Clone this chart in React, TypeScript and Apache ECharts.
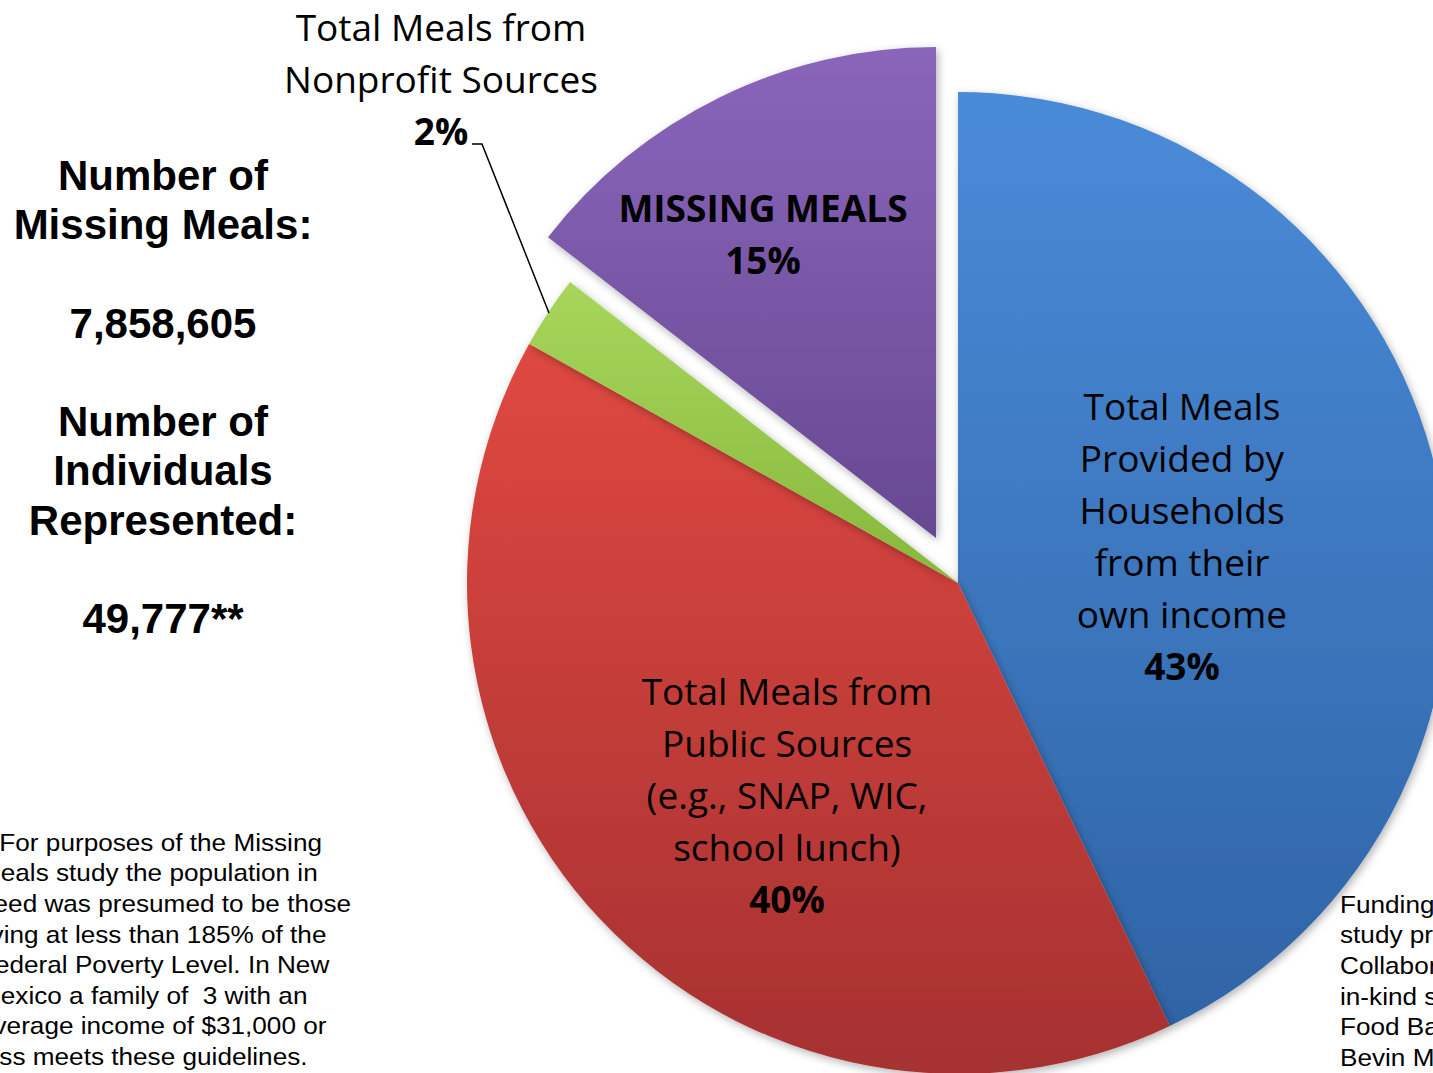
import React, { useEffect, useRef } from "react";
import * as echarts from "echarts";

// ---- data ----
const categories = [
  "Total Meals Provided by Households from their own income",
  "Total Meals from Public Sources (e.g., SNAP, WIC, school lunch)",
  "Total Meals from Nonprofit Sources",
  "MISSING MEALS",
];
// slice shares
const values = [42.9, 40.2, 2.4, 14.5];
// percentages as printed on the slices
const percentLabels = ["43%", "40%", "2%", "15%"];
const labelLines = [
  ["Total Meals", "Provided by", "Households", "from their", "own income"],
  ["Total Meals from", "Public Sources", "(e.g., SNAP, WIC,", "school lunch)"],
  ["Total Meals from", "Nonprofit Sources"],
  ["MISSING MEALS"],
];
const sliceColors = [
  ["#4a8bd8", "#2f64a6"],
  ["#df4840", "#a63131"],
  ["#a8d65c", "#86b83c"],
  ["#8a66bb", "#684892"],
];
const missingMealsCount = "7,858,605";
const individualsCount = "49,777**";
const footnoteLines = [
  "**For purposes of the Missing",
  "Meals study the population in",
  "need was presumed to be those",
  "living at less than 185% of the",
  "Federal Poverty Level. In New",
  "Mexico a family of  3 with an",
  "average income of $31,000 or",
  "less meets these guidelines.",
];
const fundingLines = [
  "Funding for this",
  "study provided by the",
  "Collaborative, with",
  "in-kind support from",
  "Food Bank and",
  "Bevin McCrory",
];

export default function App() {
  const ref = useRef<HTMLDivElement>(null);
  useEffect(() => {
    if (!ref.current) return;
    const chart = echarts.init(ref.current, undefined, { renderer: "svg" });
    const pieFont = "'Open Sans', sans-serif";
    const labelRich = {
      n: { fontFamily: pieFont, fontSize: 37, lineHeight: 52, color: "#000" },
      b: { fontFamily: pieFont, fontSize: 37, lineHeight: 52, color: "#000", fontWeight: "bold" },
    };
    const mkLabel = (i: number, x: number, y: number, boldAll: boolean) => ({
      type: "text",
      x,
      y,
      z: 100,
      style: {
        text:
          labelLines[i].map((l) => `{${boldAll ? "b" : "n"}|${l}}`).join("\n") +
          `\n{b|${percentLabels[i]}}`,
        rich: labelRich,
        align: "center",
        verticalAlign: "middle",
      },
    });
    const smallFont = "24px 'Liberation Sans', Arial, sans-serif";

    chart.setOption({
      animation: false,
      backgroundColor: "#fff",
      series: [
        {
          type: "pie",
          center: [958, 583],
          radius: 491,
          startAngle: 90,
          clockwise: true,
          selectedMode: "single",
          selectedOffset: 50,
          label: { show: false },
          labelLine: { show: false },
          emphasis: { disabled: true },
          itemStyle: {
            borderWidth: 0,
            shadowBlur: 8,
            shadowColor: "rgba(0,0,0,0.3)",
            shadowOffsetX: 2,
            shadowOffsetY: 3,
          },
          data: values.map((v, i) => ({
            name: categories[i],
            value: v,
            selected: i === 3,
            itemStyle: {
              color: new echarts.graphic.LinearGradient(0, 0, 0, 1, [
                { offset: 0, color: sliceColors[i][0] },
                { offset: 1, color: sliceColors[i][1] },
              ]),
            },
          })),
        },
      ],
      graphic: [
        mkLabel(0, 1182, 535, false),
        mkLabel(1, 787, 794, false),
        mkLabel(2, 441, 78, false),
        mkLabel(3, 763, 233, true),
        {
          type: "polyline",
          z: 100,
          shape: { points: [[472, 144], [482, 144], [549, 313]] },
          style: { stroke: "#000", lineWidth: 1.5, fill: null },
        },
        {
          type: "text",
          x: 163,
          y: 397,
          style: {
            text: [
              "Number of",
              "Missing Meals:",
              "",
              missingMealsCount,
              "",
              "Number of",
              "Individuals",
              "Represented:",
              "",
              individualsCount,
            ].join("\n"),
            font: "bold 42px 'Liberation Sans', Arial, sans-serif",
            lineHeight: 49.3,
            align: "center",
            verticalAlign: "middle",
            fill: "#000",
          },
        },
        {
          type: "text",
          x: -21,
          y: 827,
          scaleX: 1.09,
          style: {
            text: footnoteLines.join("\n"),
            font: smallFont,
            lineHeight: 30.6,
            align: "left",
            verticalAlign: "top",
            fill: "#000",
          },
        },
        {
          type: "text",
          x: 1340,
          y: 889,
          scaleX: 1.09,
          style: {
            text: fundingLines.join("\n"),
            font: smallFont,
            lineHeight: 30.6,
            align: "left",
            verticalAlign: "top",
            fill: "#000",
          },
        },
      ],
    });
    return () => chart.dispose();
  }, []);
  return (
    <div
      ref={ref}
      style={{ position: "fixed", left: 0, top: 0, width: 1433, height: 1073 }}
    />
  );
}
